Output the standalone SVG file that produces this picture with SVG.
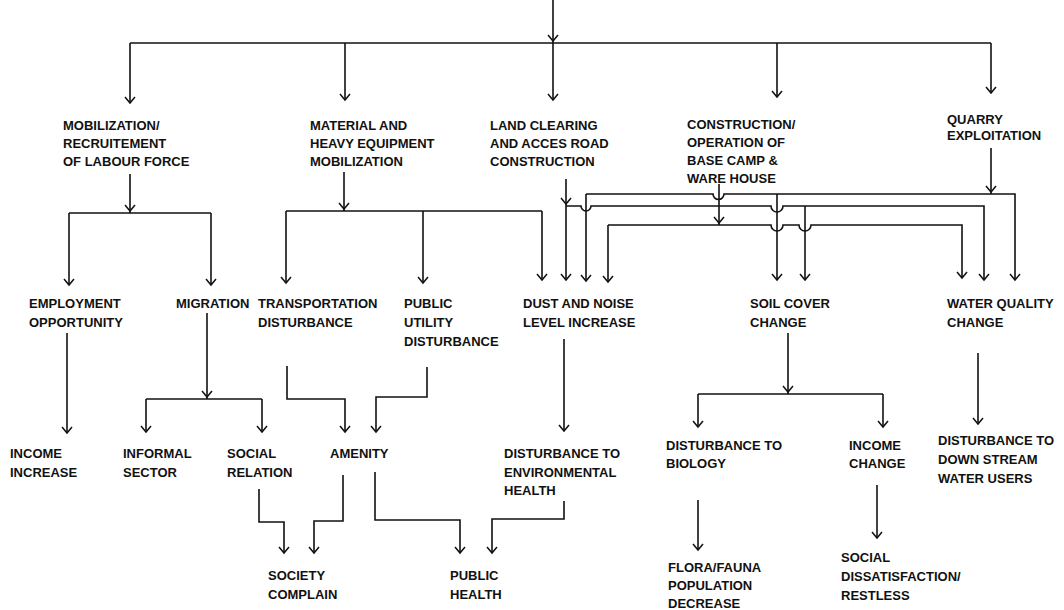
<svg xmlns="http://www.w3.org/2000/svg" xmlns:xlink="http://www.w3.org/1999/xlink" width="1064" height="610" viewBox="0 0 1064 610">
<defs>
<style>
text{font-family:"Liberation Sans",Arial,sans-serif;font-weight:bold;font-size:13px;fill:#111}
.c{fill:none;stroke:#111;stroke-width:1.6;stroke-linejoin:miter}
.a{marker-end:url(#ah)}
.ch{fill:none;stroke:#111;stroke-width:1.5}
</style>
<marker id="ah" markerUnits="userSpaceOnUse" markerWidth="14" markerHeight="14" viewBox="-8 -7 10 14" refX="0" refY="0" orient="auto">
<path d="M-6,-5 L0,0 L-6,5" fill="none" stroke="#111" stroke-width="1.5"/>
</marker>
<path id="chev" d="M-5,-6 L0,0 L5,-6"/>
</defs>
<rect width="1064" height="610" fill="#fff"/>

<g id="connectors">
<!-- top -->
<path class="c a" d="M553,0 V100"/>
<path class="c" d="M130,43 H991"/>
<path class="c a" d="M130,43 V103"/>
<path class="c a" d="M345,43 V100"/>
<path class="c a" d="M777,43 V97"/>
<path class="c a" d="M991,43 V93"/>
<!-- mobilization labour -->
<path class="c" d="M130,174 V213"/>
<path class="c" d="M69,213 H211"/>
<path class="c a" d="M69,213 V285"/>
<path class="c a" d="M211,213 V285"/>
<!-- material -->
<path class="c" d="M344,172 V211"/>
<path class="c" d="M286,211 H542"/>
<path class="c a" d="M286,211 V283"/>
<path class="c a" d="M423,211 V283"/>
<path class="c a" d="M542,211 V280"/>
<!-- land clearing -->
<path class="c a" d="M566,179 V280"/>
<path class="c" d="M566,206 H581 A5,5 0 0 0 591,206 H771 A6,6 0 0 0 783,206 H984 V280" marker-end="url(#ah)"/>
<path class="c a" d="M805,206 V280"/>
<!-- quarry -->
<path class="c" d="M991,148 V194"/>
<path class="c a" d="M586,194 V281"/>
<path class="c" d="M586,194 H713 A5.5,5.5 0 0 0 724,194 H1015 V280" marker-end="url(#ah)"/>
<path class="c a" d="M777,194 V280"/>
<!-- base camp -->
<path class="c" d="M719,184 V225"/>
<path class="c a" d="M608,225 V282"/>
<path class="c" d="M608,225 H771 A6,6 0 0 0 783,225 H799 A6,6 0 0 0 811,225 H962 V278" marker-end="url(#ah)"/>
<!-- level 2 to 3 -->
<path class="c a" d="M67,333 V433"/>
<path class="c" d="M207,313 V399"/>
<path class="c" d="M146,399 H262"/>
<path class="c a" d="M146,399 V432"/>
<path class="c a" d="M262,399 V432"/>
<path class="c a" d="M287,366 V399 H345 V432"/>
<path class="c a" d="M427,367 V397 H376 V432"/>
<path class="c a" d="M564,339 V431"/>
<path class="c" d="M788,333 V394"/>
<path class="c" d="M698,394 H883"/>
<path class="c a" d="M698,394 V427"/>
<path class="c a" d="M883,394 V427"/>
<path class="c a" d="M978,353 V424"/>
<!-- level 3 to 4 -->
<path class="c a" d="M259,489 V522 H284 V553"/>
<path class="c a" d="M343,475 V521 H314 V553"/>
<path class="c a" d="M375,472 V520 H460 V553"/>
<path class="c a" d="M564,501 V519 H492 V553"/>
<path class="c a" d="M698,500 V550"/>
<path class="c a" d="M877,485 V538"/>
<!-- junction chevrons -->
<use xlink:href="#chev" href="#chev" class="ch" x="553" y="41"/>
<use xlink:href="#chev" href="#chev" class="ch" x="130" y="211"/>
<use xlink:href="#chev" href="#chev" class="ch" x="344" y="209"/>
<use xlink:href="#chev" href="#chev" class="ch" x="566" y="204"/>
<use xlink:href="#chev" href="#chev" class="ch" x="991" y="192"/>
<use xlink:href="#chev" href="#chev" class="ch" x="719" y="223"/>
<use xlink:href="#chev" href="#chev" class="ch" x="207" y="397"/>
<use xlink:href="#chev" href="#chev" class="ch" x="788" y="392"/>
</g>

<g id="n-mobilization"><text x="63" y="130">MOBILIZATION/</text><text x="63" y="148">RECRUITEMENT</text><text x="63" y="166">OF LABOUR FORCE</text></g>
<g id="n-material"><text x="310" y="130">MATERIAL AND</text><text x="310" y="148">HEAVY EQUIPMENT</text><text x="310" y="166">MOBILIZATION</text></g>
<g id="n-landclearing"><text x="490" y="130">LAND CLEARING</text><text x="490" y="148">AND ACCES ROAD</text><text x="490" y="166">CONSTRUCTION</text></g>
<g id="n-basecamp"><text x="687" y="129">CONSTRUCTION/</text><text x="687" y="147">OPERATION OF</text><text x="687" y="165">BASE CAMP &amp;</text><text x="687" y="183">WARE HOUSE</text></g>
<g id="n-quarry"><text x="947" y="124">QUARRY</text><text x="947" y="140">EXPLOITATION</text></g>

<g id="n-employment"><text x="29" y="308">EMPLOYMENT</text><text x="29" y="327">OPPORTUNITY</text></g>
<g id="n-migration"><text x="176" y="308">MIGRATION</text></g>
<g id="n-transport"><text x="258" y="308">TRANSPORTATION</text><text x="258" y="327">DISTURBANCE</text></g>
<g id="n-publicutility"><text x="404" y="308">PUBLIC</text><text x="404" y="327">UTILITY</text><text x="404" y="346">DISTURBANCE</text></g>
<g id="n-dust"><text x="523" y="308">DUST AND NOISE</text><text x="523" y="327">LEVEL INCREASE</text></g>
<g id="n-soil"><text x="750" y="308">SOIL COVER</text><text x="750" y="327">CHANGE</text></g>
<g id="n-water"><text x="947" y="308">WATER QUALITY</text><text x="947" y="327">CHANGE</text></g>

<g id="n-incomeinc"><text x="10" y="458">INCOME</text><text x="10" y="477">INCREASE</text></g>
<g id="n-informal"><text x="123" y="458">INFORMAL</text><text x="123" y="477">SECTOR</text></g>
<g id="n-social"><text x="227" y="458">SOCIAL</text><text x="227" y="477">RELATION</text></g>
<g id="n-amenity"><text x="330" y="458">AMENITY</text></g>
<g id="n-envhealth"><text x="504" y="458">DISTURBANCE TO</text><text x="504" y="477">ENVIRONMENTAL</text><text x="504" y="495">HEALTH</text></g>
<g id="n-biology"><text x="666" y="450">DISTURBANCE TO</text><text x="666" y="468">BIOLOGY</text></g>
<g id="n-incomechange"><text x="849" y="450">INCOME</text><text x="849" y="468">CHANGE</text></g>
<g id="n-downstream"><text x="938" y="445">DISTURBANCE TO</text><text x="938" y="464">DOWN STREAM</text><text x="938" y="483">WATER USERS</text></g>

<g id="n-society"><text x="268" y="580">SOCIETY</text><text x="268" y="599">COMPLAIN</text></g>
<g id="n-publichealth"><text x="450" y="580">PUBLIC</text><text x="450" y="599">HEALTH</text></g>
<g id="n-flora"><text x="668" y="572">FLORA/FAUNA</text><text x="668" y="590">POPULATION</text><text x="668" y="608">DECREASE</text></g>
<g id="n-dissatisfaction"><text x="841" y="562">SOCIAL</text><text x="841" y="581">DISSATISFACTION/</text><text x="841" y="600">RESTLESS</text></g>
</svg>
